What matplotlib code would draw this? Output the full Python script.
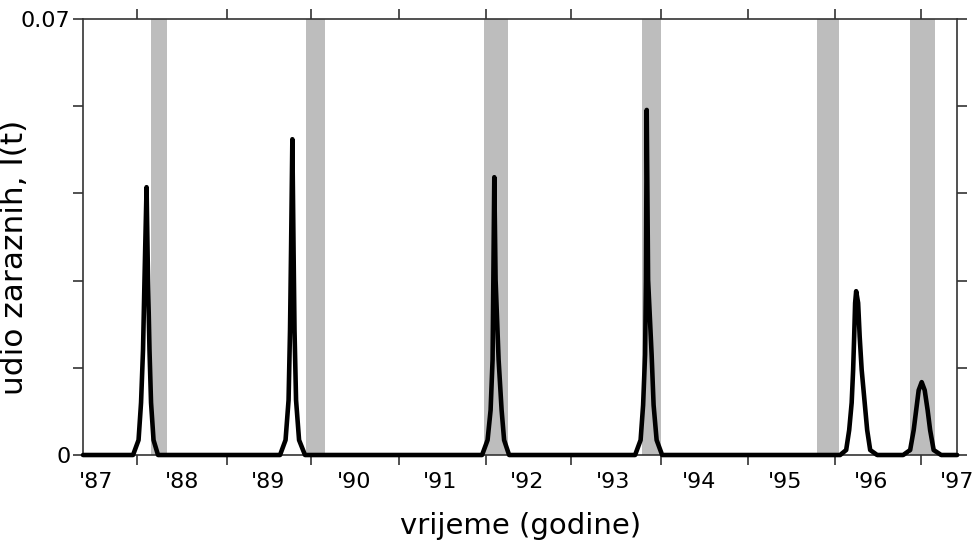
import matplotlib
matplotlib.use("Agg")
import matplotlib.pyplot as plt

# year labels shown under the axis
year_pos = [1987, 1988, 1989, 1990, 1991, 1992, 1993, 1994, 1995, 1996, 1997]
year_labels = ["'87", "'88", "'89", "'90", "'91", "'92", "'93", "'94", "'95", "'96", "'97"]

# tick marks on the frame (they do not sit on the year labels in the original)
x_ticks = [1987.476, 1988.521, 1989.497, 1990.519, 1991.530,
           1992.517, 1993.562, 1994.573, 1995.583, 1996.582]
y_ticks = [0, 0.014, 0.028, 0.042, 0.056, 0.07]

# shaded periods (start, end)
bands = [(1987.633, 1987.825), (1989.436, 1989.660), (1991.510, 1991.779),
         (1993.338, 1993.559), (1995.377, 1995.633), (1996.454, 1996.744)]

# epidemic peaks
peak1_t = [1987.430, 1987.494, 1987.523, 1987.546, 1987.563, 1987.587,
           1987.604, 1987.621, 1987.639, 1987.668, 1987.720]
peak1_i = [0, 0.0024, 0.0084, 0.0169, 0.0281, 0.0430, 0.0281, 0.0169, 0.0084, 0.0024, 0]

peak2_t = [1989.137, 1989.201, 1989.236, 1989.253, 1989.265, 1989.280,
           1989.294, 1989.305, 1989.323, 1989.358, 1989.427]
peak2_i = [0, 0.0024, 0.0088, 0.0201, 0.0329, 0.0507, 0.0329, 0.0201, 0.0088, 0.0024, 0]

peak3_t = [1991.483, 1991.547, 1991.582, 1991.605, 1991.614, 1991.625,
           1991.640, 1991.675, 1991.710, 1991.739, 1991.797]
peak3_i = [0, 0.0024, 0.0072, 0.0153, 0.0281, 0.0446, 0.0281, 0.0153, 0.0072, 0.0024, 0]

peak4_t = [1993.260, 1993.324, 1993.353, 1993.376, 1993.386, 1993.395,
           1993.411, 1993.452, 1993.475, 1993.510, 1993.574]
peak4_i = [0, 0.0024, 0.0080, 0.0161, 0.0281, 0.0554, 0.0281, 0.0161, 0.0080, 0.0024, 0]

peak5_t = [1995.641, 1995.711, 1995.746, 1995.775, 1995.792, 1995.804, 1995.815, 1995.827,
           1995.850, 1995.868, 1995.891, 1995.926, 1995.955, 1995.990, 1996.071]
peak5_i = [0, 0.0008, 0.0040, 0.0084, 0.0137, 0.0190, 0.0244, 0.0263,
           0.0244, 0.0190, 0.0137, 0.0084, 0.0040, 0.0008, 0]

peak6_t = [1996.373, 1996.454, 1996.495, 1996.524, 1996.553, 1996.588,
           1996.623, 1996.657, 1996.686, 1996.727, 1996.814]
peak6_i = [0, 0.0008, 0.0040, 0.0072, 0.0104, 0.0117, 0.0104, 0.0072, 0.0040, 0.0008, 0]

t_start, t_end = 1986.849, 1997.0

t = [t_start] + peak1_t + peak2_t + peak3_t + peak4_t + peak5_t + peak6_t + [t_end]
i_t = [0] + peak1_i + peak2_i + peak3_i + peak4_i + peak5_i + peak6_i + [0]

fig = plt.figure(figsize=(9.8, 5.49), dpi=100)
ax = fig.add_axes([0.0847, 0.1712, 0.892, 0.7942])

for b0, b1 in bands:
    ax.axvspan(b0, b1, color='#bdbdbd', lw=0, zorder=1)

ax.plot(t, i_t, color='black', lw=3.3, solid_joinstyle='round', solid_capstyle='round',
        zorder=3, clip_on=False)

ax.set_xlim(t_start, t_end)
ax.set_ylim(0, 0.07)

ax.set_xticks(x_ticks)
ax.set_xticklabels([])
ax.set_xticks(year_pos, year_labels, minor=True)
ax.set_yticks(y_ticks)
ax.set_yticklabels(['0', '', '', '', '', '0.07'])

ax.tick_params(which='major', direction='out', length=7, width=1.1, color='#222222',
               top=True, right=True, labelsize=16, pad=2)
ax.tick_params(axis='x', which='minor', length=0, labelsize=16, pad=12)
for s in ax.spines.values():
    s.set_linewidth(1.2)
    s.set_color('#333333')

ax.set_xlabel('vrijeme (godine)', fontsize=21)
ax.set_ylabel('udio zaraznih, I(t)', fontsize=22.5)
ax.xaxis.set_label_coords(0.5, -0.13)
ax.yaxis.set_label_coords(-0.062, 0.454)

fig.savefig('out.png', dpi=100)
